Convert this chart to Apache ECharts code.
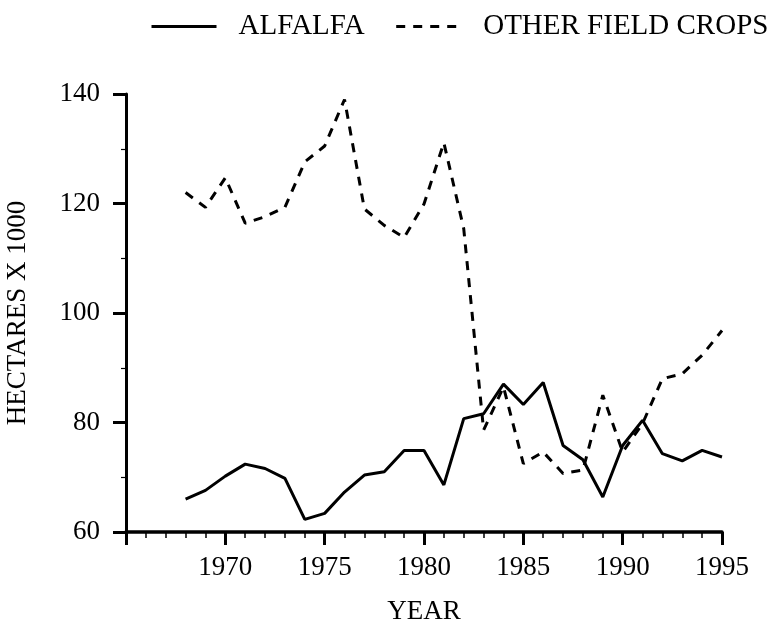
<!DOCTYPE html>
<html>
<head>
<meta charset="utf-8">
<script src="https://cdn.jsdelivr.net/npm/echarts@6/dist/echarts.min.js"></script>
<style>
  html, body { margin: 0; padding: 0; background: #fff; }
  #main { width: 773px; height: 638px; }
</style>
</head>
<body>
<div id="main"></div>
<script>
// data
const years = [1968, 1969, 1970, 1971, 1972, 1973, 1974, 1975, 1976, 1977, 1978, 1979, 1980, 1981,
  1982, 1983, 1984, 1985, 1986, 1987, 1988, 1989, 1990, 1991, 1992, 1993, 1994, 1995];
const alfalfa = [66.0, 67.6, 70.2, 72.4, 71.6, 69.8, 62.3, 63.4, 67.3, 70.4, 71.0, 74.9, 74.9, 68.6,
  80.7, 81.6, 87.0, 83.3, 87.3, 75.8, 73.2, 66.4, 75.8, 80.4, 74.3, 73.0, 74.9, 73.7];
const otherCrops = [122.0, 119.3, 124.7, 116.4, 117.6, 119.3, 127.6, 130.5, 139.0, 119.0, 116.0, 113.8, 119.9, 131.1,
  115.4, 78.6, 86.5, 72.5, 74.6, 70.7, 71.3, 85.0, 74.6, 79.8, 88.0, 88.9, 92.3, 96.8];
const seriesNames = ["ALFALFA", "OTHER FIELD CROPS"];

const font = "'Liberation Serif', 'Times New Roman', serif";

const toPairs = (vals) => vals.map((v, i) => [years[i], v]);

const chart = echarts.init(document.getElementById("main"), null, { renderer: "canvas" });

const option = {
  backgroundColor: "#fff",
  animation: false,
  legend: {
    top: 7,
    left: 145,
    width: 720,
    itemWidth: 65,
    itemHeight: 14,
    itemGap: 30,
    itemStyle: { opacity: 0 },
    lineStyle: { width: 3 },
    textStyle: { fontFamily: font, fontSize: 29, color: "#000", padding: [0, 0, 0, 17] },
    data: seriesNames,
  },
  grid: { left: 126, right: 51, top: 94, bottom: 106, outerBoundsMode: "none", containLabel: false },
  xAxis: {
    type: "value",
    min: 1965,
    max: 1995,
    interval: 5,
    name: "YEAR",
    nameLocation: "middle",
    nameGap: 66,
    nameTextStyle: { fontFamily: font, fontSize: 27, color: "#000" },
    axisLine: { lineStyle: { color: "#000", width: 3.5 } },
    axisTick: { length: 13, lineStyle: { color: "#000", width: 3 } },
    minorTick: { show: true, splitNumber: 5, length: 6, lineStyle: { color: "#000", width: 1.5 } },
    axisLabel: {
      margin: 22,
      fontFamily: font,
      fontSize: 27,
      color: "#000",
      formatter: (v) => (v === 1965 ? "" : String(v)),
    },
    splitLine: { show: false },
  },
  yAxis: {
    type: "value",
    min: 60,
    max: 140,
    interval: 20,
    name: "HECTARES X 1000",
    nameLocation: "middle",
    nameGap: 95,
    nameTextStyle: { fontFamily: font, fontSize: 27, color: "#000" },
    axisLine: { show: true, lineStyle: { color: "#000", width: 3 } },
    axisTick: { show: true, length: 13, lineStyle: { color: "#000", width: 3 } },
    minorTick: { show: true, splitNumber: 2, length: 5, lineStyle: { color: "#000", width: 1.2 } },
    axisLabel: { margin: 26, fontFamily: font, fontSize: 27, color: "#000" },
    splitLine: { show: false },
  },
  series: [
    {
      name: seriesNames[0],
      type: "line",
      showSymbol: false,
      symbol: "none",
      data: toPairs(alfalfa),
      lineStyle: { color: "#000", width: 3 },
      itemStyle: { color: "#000" },
    },
    {
      name: seriesNames[1],
      type: "line",
      showSymbol: false,
      symbol: "none",
      data: toPairs(otherCrops),
      lineStyle: { color: "#000", width: 3, type: [9, 8] },
      itemStyle: { color: "#000" },
    },
  ],
};

chart.setOption(option);
</script>
</body>
</html>
